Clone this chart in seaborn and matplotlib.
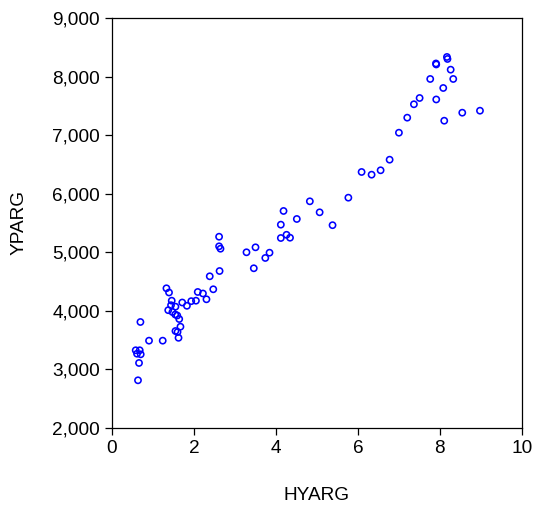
import matplotlib
matplotlib.use("Agg")
import matplotlib.pyplot as plt
import matplotlib.ticker as mticker
import pandas as pd
import seaborn as sns

# valores
hyarg = [0.635, 0.66, 0.579, 0.677, 0.611, 0.701, 0.694, 0.904, 1.238, 1.329,
         1.392, 1.458, 1.441, 1.549, 1.373, 1.475, 1.544, 1.593, 1.641, 1.671,
         1.549, 1.600, 1.624, 1.715, 1.829, 1.935, 2.049, 2.306, 2.093, 2.220,
         2.472, 2.386, 2.626, 2.614, 2.614, 2.648, 3.283, 3.503, 3.461, 3.742,
         3.845, 4.121, 4.260, 4.345, 4.121, 4.187, 4.511, 4.829, 5.068, 5.383,
         5.769, 6.092, 6.336, 6.556, 6.776, 7.003, 7.206, 7.369, 7.508, 7.767,
         7.914, 8.085, 8.109, 7.907, 7.914, 8.175, 8.188, 8.266, 8.329, 8.549,
         8.981]
yparg = [2810, 3106, 3323, 3323, 3264, 3254, 3806, 3487, 3487, 4382,
         4310, 4170, 4093, 4068, 4008, 3977, 3934, 3917, 3857, 3726,
         3652, 3635, 3536, 4139, 4083, 4162, 4170, 4194, 4319, 4293,
         4365, 4587, 4677, 5263, 5099, 5058, 4997, 5082, 4724, 4900,
         4990, 5241, 5296, 5246, 5469, 5703, 5566, 5868, 5680, 5460,
         5930, 6369, 6323, 6398, 6579, 7040, 7297, 7526, 7633, 7958,
         7608, 7804, 7245, 8223, 8206, 8334, 8300, 8117, 7958, 7382,
         7416]

df = pd.DataFrame({"HYARG": hyarg, "YPARG": yparg})

sns.set_theme(style="white")
plt.rcParams["font.family"] = ["Liberation Sans", "DejaVu Sans"]

fig = plt.figure(figsize=(5.34, 5.11), dpi=100)
ax = fig.add_axes([0.2097, 0.163, 0.7673, 0.8018])

sns.scatterplot(data=df, x="HYARG", y="YPARG", ax=ax, s=20,
                facecolors="none", edgecolor="#0000FF", linewidth=1.15,
                marker="o")

ax.set_xlim(0, 10)
ax.set_ylim(2000, 9000)
ax.set_xticks([0, 2, 4, 6, 8, 10])
ax.set_yticks(range(2000, 9001, 1000))
ax.yaxis.set_major_formatter(mticker.FuncFormatter(lambda v, p: f"{int(v):,}"))

for s in ax.spines.values():
    s.set_color("black")
    s.set_linewidth(0.9)
ax.tick_params(axis="both", direction="out", length=5, width=0.9,
               labelsize=13.7, colors="black", bottom=True, left=True)

ax.set_xlabel("HYARG", fontsize=13.7, labelpad=22, color="black")
ax.set_ylabel("YPARG", fontsize=13.7, labelpad=18, color="black")

fig.savefig("out.png", dpi=100)
